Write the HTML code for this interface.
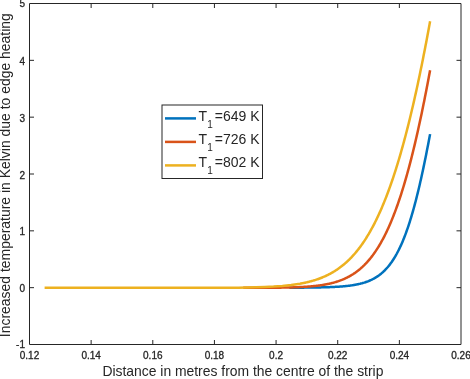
<!DOCTYPE html>
<html><head><meta charset="utf-8"><style>
html,body{margin:0;padding:0;background:#fff;}
svg{display:block;will-change:transform;font-family:"Liberation Sans",sans-serif;}
text{fill:#262626;}
.tk{stroke:#262626;stroke-width:0.3;}
</style></head><body>
<svg width="470" height="379" viewBox="0 0 470 379">
<rect width="470" height="379" fill="#fff"/>
<path d="M29.5,3.5 H461.0 V344.5 H29.5 Z" fill="none" stroke="#262626" stroke-width="1"/>
<path d="M91.14,344.5 v-4.5 M91.14,3.5 v4.5 M152.79,344.5 v-4.5 M152.79,3.5 v4.5 M214.43,344.5 v-4.5 M214.43,3.5 v4.5 M276.07,344.5 v-4.5 M276.07,3.5 v4.5 M337.71,344.5 v-4.5 M337.71,3.5 v4.5 M399.36,344.5 v-4.5 M399.36,3.5 v4.5 M29.5,287.67 h4.5 M461.0,287.67 h-4.5 M29.5,230.83 h4.5 M461.0,230.83 h-4.5 M29.5,174.00 h4.5 M461.0,174.00 h-4.5 M29.5,117.17 h4.5 M461.0,117.17 h-4.5 M29.5,60.33 h4.5 M461.0,60.33 h-4.5" fill="none" stroke="#262626" stroke-width="1"/>
<path d="M289.36,287.71 L289.73,287.71 L290.09,287.71 L290.46,287.71 L290.83,287.71 L291.20,287.70 L291.56,287.70 L291.93,287.70 L292.30,287.70 L292.66,287.70 L293.03,287.70 L293.40,287.69 L293.76,287.69 L294.13,287.69 L294.50,287.69 L294.86,287.69 L295.23,287.69 L295.60,287.68 L295.96,287.68 L296.33,287.68 L296.70,287.68 L297.07,287.68 L297.43,287.67 L297.80,287.67 L298.17,287.67 L298.53,287.67 L298.90,287.66 L299.27,287.66 L299.63,287.66 L300.00,287.66 L300.65,287.65 L301.31,287.65 L301.96,287.64 L302.62,287.64 L303.27,287.63 L303.92,287.63 L304.58,287.62 L305.23,287.62 L305.88,287.61 L306.54,287.60 L307.19,287.60 L307.85,287.59 L308.50,287.58 L309.15,287.58 L309.81,287.57 L310.46,287.56 L311.11,287.55 L311.77,287.54 L312.42,287.53 L313.08,287.53 L313.73,287.52 L314.38,287.51 L315.04,287.50 L315.69,287.49 L316.34,287.47 L317.00,287.46 L317.65,287.45 L318.31,287.44 L318.96,287.43 L319.61,287.41 L320.27,287.40 L320.92,287.38 L321.57,287.37 L322.23,287.35 L322.88,287.34 L323.54,287.32 L324.19,287.30 L324.84,287.28 L325.50,287.26 L326.15,287.25 L326.80,287.22 L327.46,287.20 L328.11,287.18 L328.77,287.16 L329.42,287.13 L330.07,287.11 L330.73,287.08 L331.38,287.06 L332.03,287.03 L332.69,287.00 L333.34,286.97 L334.00,286.94 L334.65,286.90 L335.30,286.87 L335.96,286.83 L336.61,286.80 L337.26,286.76 L337.92,286.72 L338.57,286.68 L339.23,286.63 L339.88,286.59 L340.53,286.54 L341.19,286.49 L341.84,286.44 L342.49,286.39 L343.15,286.33 L343.80,286.27 L344.46,286.21 L345.11,286.15 L345.76,286.09 L346.42,286.02 L347.07,285.95 L347.73,285.87 L348.38,285.80 L349.03,285.72 L349.69,285.64 L350.34,285.55 L350.99,285.46 L351.65,285.37 L352.30,285.27 L352.96,285.17 L353.61,285.06 L354.26,284.95 L354.92,284.84 L355.57,284.72 L356.22,284.60 L356.88,284.47 L357.53,284.34 L358.19,284.20 L358.84,284.05 L359.49,283.90 L360.15,283.75 L360.80,283.58 L361.45,283.41 L362.11,283.24 L362.76,283.05 L363.42,282.86 L364.07,282.67 L364.72,282.46 L365.38,282.25 L366.03,282.02 L366.68,281.79 L367.34,281.55 L367.99,281.30 L368.65,281.04 L369.30,280.77 L369.95,280.49 L370.61,280.20 L371.26,279.90 L371.91,279.58 L372.57,279.25 L373.22,278.92 L373.88,278.56 L374.53,278.20 L375.18,277.82 L375.84,277.42 L376.49,277.01 L377.14,276.59 L377.80,276.15 L378.45,275.69 L379.11,275.22 L379.76,274.73 L380.41,274.22 L381.07,273.69 L381.72,273.15 L382.37,272.58 L383.03,271.99 L383.68,271.38 L384.34,270.75 L384.99,270.10 L385.64,269.43 L386.30,268.73 L386.95,268.00 L387.61,267.26 L388.26,266.48 L388.91,265.68 L389.57,264.85 L390.22,264.00 L390.87,263.11 L391.53,262.20 L392.18,261.26 L392.84,260.28 L393.49,259.27 L394.14,258.24 L394.80,257.16 L395.45,256.06 L396.10,254.91 L396.76,253.74 L397.41,252.52 L398.07,251.27 L398.72,249.99 L399.37,248.66 L400.03,247.29 L400.68,245.88 L401.33,244.44 L401.99,242.95 L402.64,241.42 L403.30,239.84 L403.95,238.22 L404.60,236.56 L405.26,234.85 L405.91,233.09 L406.56,231.29 L407.22,229.45 L407.87,227.55 L408.53,225.61 L409.18,223.61 L409.83,221.57 L410.49,219.48 L411.14,217.34 L411.79,215.15 L412.45,212.91 L413.10,210.62 L413.76,208.28 L414.41,205.89 L415.06,203.44 L415.72,200.95 L416.37,198.40 L417.02,195.80 L417.68,193.16 L418.33,190.46 L418.99,187.71 L419.64,184.92 L420.29,182.07 L420.95,179.18 L421.60,176.23 L422.25,173.24 L422.91,170.21 L423.56,167.13 L424.22,164.00 L424.87,160.84 L425.52,157.63 L426.18,154.38 L426.83,151.09 L427.48,147.76 L428.14,144.40 L428.79,141.00 L429.45,137.58 L430.10,134.12" fill="none" stroke="#0072BD" stroke-width="2.5" stroke-linejoin="round"/>
<path d="M243.19,287.84 L245.15,287.83 L247.11,287.83 L249.06,287.83 L251.02,287.82 L252.98,287.82 L254.94,287.81 L256.90,287.81 L258.86,287.80 L260.82,287.80 L262.78,287.79 L264.74,287.78 L266.70,287.77 L268.66,287.75 L270.61,287.74 L272.57,287.72 L274.53,287.70 L276.49,287.68 L278.45,287.66 L280.41,287.63 L282.37,287.60 L284.33,287.57 L286.29,287.53 L288.25,287.49 L290.20,287.44 L292.16,287.38 L294.12,287.32 L296.08,287.25 L298.04,287.17 L300.00,287.08 L300.65,287.05 L301.31,287.02 L301.96,286.98 L302.62,286.95 L303.27,286.91 L303.92,286.87 L304.58,286.83 L305.23,286.79 L305.88,286.75 L306.54,286.71 L307.19,286.66 L307.85,286.61 L308.50,286.56 L309.15,286.51 L309.81,286.46 L310.46,286.41 L311.11,286.35 L311.77,286.29 L312.42,286.23 L313.08,286.17 L313.73,286.10 L314.38,286.03 L315.04,285.96 L315.69,285.89 L316.34,285.82 L317.00,285.74 L317.65,285.66 L318.31,285.58 L318.96,285.49 L319.61,285.40 L320.27,285.31 L320.92,285.22 L321.57,285.12 L322.23,285.02 L322.88,284.91 L323.54,284.81 L324.19,284.70 L324.84,284.58 L325.50,284.46 L326.15,284.34 L326.80,284.21 L327.46,284.08 L328.11,283.94 L328.77,283.81 L329.42,283.66 L330.07,283.51 L330.73,283.36 L331.38,283.20 L332.03,283.04 L332.69,282.87 L333.34,282.69 L334.00,282.52 L334.65,282.33 L335.30,282.14 L335.96,281.94 L336.61,281.74 L337.26,281.53 L337.92,281.32 L338.57,281.10 L339.23,280.87 L339.88,280.63 L340.53,280.39 L341.19,280.14 L341.84,279.89 L342.49,279.62 L343.15,279.35 L343.80,279.07 L344.46,278.78 L345.11,278.49 L345.76,278.18 L346.42,277.87 L347.07,277.55 L347.73,277.22 L348.38,276.88 L349.03,276.53 L349.69,276.17 L350.34,275.80 L350.99,275.42 L351.65,275.03 L352.30,274.63 L352.96,274.22 L353.61,273.79 L354.26,273.36 L354.92,272.91 L355.57,272.45 L356.22,271.98 L356.88,271.50 L357.53,271.01 L358.19,270.50 L358.84,269.98 L359.49,269.44 L360.15,268.90 L360.80,268.33 L361.45,267.76 L362.11,267.17 L362.76,266.56 L363.42,265.94 L364.07,265.31 L364.72,264.65 L365.38,263.99 L366.03,263.30 L366.68,262.60 L367.34,261.89 L367.99,261.15 L368.65,260.40 L369.30,259.63 L369.95,258.84 L370.61,258.04 L371.26,257.21 L371.91,256.37 L372.57,255.51 L373.22,254.62 L373.88,253.72 L374.53,252.80 L375.18,251.85 L375.84,250.89 L376.49,249.90 L377.14,248.90 L377.80,247.87 L378.45,246.82 L379.11,245.74 L379.76,244.65 L380.41,243.53 L381.07,242.38 L381.72,241.21 L382.37,240.02 L383.03,238.81 L383.68,237.57 L384.34,236.30 L384.99,235.01 L385.64,233.69 L386.30,232.35 L386.95,230.98 L387.61,229.58 L388.26,228.16 L388.91,226.71 L389.57,225.23 L390.22,223.72 L390.87,222.18 L391.53,220.62 L392.18,219.03 L392.84,217.40 L393.49,215.75 L394.14,214.07 L394.80,212.36 L395.45,210.62 L396.10,208.85 L396.76,207.04 L397.41,205.21 L398.07,203.34 L398.72,201.44 L399.37,199.51 L400.03,197.55 L400.68,195.56 L401.33,193.53 L401.99,191.47 L402.64,189.38 L403.30,187.25 L403.95,185.09 L404.60,182.90 L405.26,180.67 L405.91,178.41 L406.56,176.11 L407.22,173.78 L407.87,171.42 L408.53,169.02 L409.18,166.59 L409.83,164.12 L410.49,161.61 L411.14,159.07 L411.79,156.50 L412.45,153.89 L413.10,151.25 L413.76,148.57 L414.41,145.85 L415.06,143.10 L415.72,140.31 L416.37,137.49 L417.02,134.63 L417.68,131.74 L418.33,128.81 L418.99,125.85 L419.64,122.85 L420.29,119.82 L420.95,116.75 L421.60,113.64 L422.25,110.50 L422.91,107.33 L423.56,104.12 L424.22,100.88 L424.87,97.60 L425.52,94.29 L426.18,90.95 L426.83,87.57 L427.48,84.16 L428.14,80.71 L428.79,77.23 L429.45,73.72 L430.10,70.18" fill="none" stroke="#D95319" stroke-width="2.5" stroke-linejoin="round"/>
<path d="M44.61,287.85 L53.42,287.85 L62.22,287.85 L71.03,287.85 L79.84,287.85 L88.64,287.85 L97.45,287.85 L106.26,287.85 L115.06,287.85 L123.87,287.85 L132.68,287.85 L141.48,287.85 L150.29,287.85 L159.10,287.85 L167.90,287.85 L176.71,287.84 L185.52,287.84 L194.32,287.83 L203.13,287.82 L211.93,287.80 L220.74,287.77 L229.55,287.72 L238.35,287.65 L247.16,287.52 L255.97,287.33 L264.77,287.05 L273.58,286.62 L282.39,285.98 L291.19,285.05 L300.00,283.72 L300.65,283.60 L301.31,283.48 L301.96,283.35 L302.62,283.23 L303.27,283.10 L303.92,282.96 L304.58,282.82 L305.23,282.68 L305.88,282.54 L306.54,282.39 L307.19,282.23 L307.85,282.08 L308.50,281.92 L309.15,281.75 L309.81,281.58 L310.46,281.41 L311.11,281.23 L311.77,281.05 L312.42,280.86 L313.08,280.67 L313.73,280.48 L314.38,280.28 L315.04,280.07 L315.69,279.86 L316.34,279.65 L317.00,279.43 L317.65,279.20 L318.31,278.97 L318.96,278.74 L319.61,278.50 L320.27,278.25 L320.92,278.00 L321.57,277.74 L322.23,277.47 L322.88,277.20 L323.54,276.92 L324.19,276.64 L324.84,276.35 L325.50,276.05 L326.15,275.75 L326.80,275.44 L327.46,275.12 L328.11,274.80 L328.77,274.46 L329.42,274.12 L330.07,273.78 L330.73,273.42 L331.38,273.06 L332.03,272.69 L332.69,272.31 L333.34,271.92 L334.00,271.53 L334.65,271.12 L335.30,270.71 L335.96,270.29 L336.61,269.86 L337.26,269.42 L337.92,268.97 L338.57,268.51 L339.23,268.04 L339.88,267.56 L340.53,267.08 L341.19,266.58 L341.84,266.07 L342.49,265.55 L343.15,265.02 L343.80,264.48 L344.46,263.93 L345.11,263.37 L345.76,262.79 L346.42,262.21 L347.07,261.61 L347.73,261.00 L348.38,260.38 L349.03,259.74 L349.69,259.10 L350.34,258.44 L350.99,257.77 L351.65,257.08 L352.30,256.38 L352.96,255.67 L353.61,254.95 L354.26,254.21 L354.92,253.45 L355.57,252.69 L356.22,251.91 L356.88,251.11 L357.53,250.30 L358.19,249.47 L358.84,248.63 L359.49,247.77 L360.15,246.90 L360.80,246.01 L361.45,245.11 L362.11,244.19 L362.76,243.25 L363.42,242.30 L364.07,241.32 L364.72,240.34 L365.38,239.33 L366.03,238.31 L366.68,237.27 L367.34,236.21 L367.99,235.13 L368.65,234.04 L369.30,232.92 L369.95,231.79 L370.61,230.64 L371.26,229.46 L371.91,228.27 L372.57,227.06 L373.22,225.83 L373.88,224.58 L374.53,223.31 L375.18,222.02 L375.84,220.70 L376.49,219.37 L377.14,218.01 L377.80,216.64 L378.45,215.24 L379.11,213.82 L379.76,212.38 L380.41,210.91 L381.07,209.42 L381.72,207.91 L382.37,206.38 L383.03,204.82 L383.68,203.24 L384.34,201.64 L384.99,200.01 L385.64,198.36 L386.30,196.69 L386.95,194.99 L387.61,193.26 L388.26,191.51 L388.91,189.74 L389.57,187.94 L390.22,186.11 L390.87,184.26 L391.53,182.38 L392.18,180.48 L392.84,178.55 L393.49,176.60 L394.14,174.62 L394.80,172.61 L395.45,170.57 L396.10,168.51 L396.76,166.42 L397.41,164.30 L398.07,162.16 L398.72,159.99 L399.37,157.79 L400.03,155.56 L400.68,153.30 L401.33,151.02 L401.99,148.71 L402.64,146.37 L403.30,144.00 L403.95,141.60 L404.60,139.17 L405.26,136.71 L405.91,134.23 L406.56,131.71 L407.22,129.17 L407.87,126.59 L408.53,123.99 L409.18,121.36 L409.83,118.70 L410.49,116.01 L411.14,113.28 L411.79,110.53 L412.45,107.75 L413.10,104.94 L413.76,102.10 L414.41,99.23 L415.06,96.32 L415.72,93.39 L416.37,90.43 L417.02,87.44 L417.68,84.42 L418.33,81.36 L418.99,78.28 L419.64,75.17 L420.29,72.02 L420.95,68.85 L421.60,65.65 L422.25,62.42 L422.91,59.15 L423.56,55.86 L424.22,52.54 L424.87,49.18 L425.52,45.80 L426.18,42.39 L426.83,38.95 L427.48,35.48 L428.14,31.98 L428.79,28.45 L429.45,24.89 L430.10,21.30" fill="none" stroke="#EDB120" stroke-width="2.5" stroke-linejoin="round"/>
<rect x="162" y="105" width="100.5" height="73.5" fill="#fff" stroke="#262626" stroke-width="1"/>
<path d="M165,118.4 H196" stroke="#0072BD" stroke-width="2.5"/>
<path d="M165,141.9 H196" stroke="#D95319" stroke-width="2.5"/>
<path d="M165,165.4 H196" stroke="#EDB120" stroke-width="2.5"/>
<g class="t">
<text x="29.50" y="359.0" font-size="10" text-anchor="middle" class="tk">0.12</text>
<text x="91.14" y="359.0" font-size="10" text-anchor="middle" class="tk">0.14</text>
<text x="152.79" y="359.0" font-size="10" text-anchor="middle" class="tk">0.16</text>
<text x="214.43" y="359.0" font-size="10" text-anchor="middle" class="tk">0.18</text>
<text x="276.07" y="359.0" font-size="10" text-anchor="middle" class="tk">0.2</text>
<text x="337.71" y="359.0" font-size="10" text-anchor="middle" class="tk">0.22</text>
<text x="399.36" y="359.0" font-size="10" text-anchor="middle" class="tk">0.24</text>
<text x="461.00" y="359.0" font-size="10" text-anchor="middle" class="tk">0.26</text>
<text x="25" y="348.00" font-size="10" text-anchor="end" class="tk">-1</text>
<text x="25" y="292.27" font-size="10" text-anchor="end" class="tk">0</text>
<text x="25" y="235.43" font-size="10" text-anchor="end" class="tk">1</text>
<text x="25" y="178.60" font-size="10" text-anchor="end" class="tk">2</text>
<text x="25" y="121.77" font-size="10" text-anchor="end" class="tk">3</text>
<text x="25" y="64.93" font-size="10" text-anchor="end" class="tk">4</text>
<text x="25" y="7.40" font-size="10" text-anchor="end" class="tk">5</text>
<text x="242.9" y="375.9" font-size="13.9" text-anchor="middle">Distance in metres from the centre of the strip</text>
<text transform="translate(10.2,175.2) rotate(-90)" x="0" y="0" font-size="13.95" text-anchor="middle">Increased temperature in Kelvin due to edge heating</text>
<text x="198.6" y="120.6" font-size="14">T</text>
<text x="207.3" y="127.5" font-size="10">1</text>
<text x="214.8" y="120.6" font-size="14">=649 K</text>
<text x="198.6" y="144.0" font-size="14">T</text>
<text x="207.3" y="150.9" font-size="10">1</text>
<text x="214.8" y="144.0" font-size="14">=726 K</text>
<text x="198.6" y="167.2" font-size="14">T</text>
<text x="207.3" y="174.1" font-size="10">1</text>
<text x="214.8" y="167.2" font-size="14">=802 K</text>
</g>
</svg>
</body></html>
